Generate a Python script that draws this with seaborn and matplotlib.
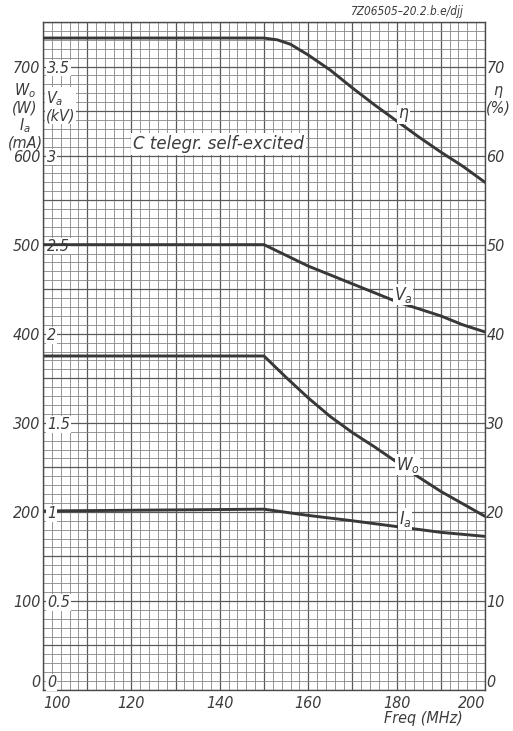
import matplotlib
matplotlib.use("Agg")
import matplotlib.pyplot as plt
import seaborn as sns
from matplotlib.ticker import MultipleLocator, FuncFormatter, FixedLocator

# ---- data ----
eta_freq = [100, 150, 153, 156, 160, 165, 170, 175, 180, 185, 190, 195, 200]
eta_pct = [73.2, 73.2, 73.0, 72.5, 71.3, 69.6, 67.6, 65.7, 63.9, 62.1, 60.4, 58.8, 57.0]

va_freq = [100, 150, 155, 160, 165, 170, 175, 180, 185, 190, 195, 200]
va_kv = [2.5, 2.5, 2.44, 2.38, 2.33, 2.28, 2.23, 2.18, 2.14, 2.10, 2.05, 2.01]

wo_freq = [100, 150, 155, 160, 165, 170, 175, 180, 185, 190, 195, 200]
wo_w = [375, 375, 351, 328, 307, 289, 273, 256, 239, 223, 209, 195]

ia_freq = [100, 150, 160, 170, 180, 190, 200]
ia_ma = [201, 203, 196, 190, 183.5, 177, 172.5]

x_ticks = [100, 120, 140, 160, 180, 200]
left_ticks = [0, 100, 200, 300, 400, 500, 600, 700]
va_ticks = [0, 0.5, 1, 1.5, 2, 2.5, 3, 3.5]
va_tick_labels = ["0", "0.5", "1", "1.5", "2", "2.5", "3", "3.5"]
eta_ticks = [0, 10, 20, 30, 40, 50, 60, 70]

sns.set_theme(style="white")
plt.rcParams["font.family"] = ["DejaVu Sans"]
plt.rcParams["font.style"] = "italic"
plt.rcParams["font.stretch"] = "condensed"
plt.rcParams["mathtext.fontset"] = "dejavusans"

TXT = "#3c3c3c"
LINE = "#383838"
FS = 11.5

fig = plt.figure(figsize=(5.13, 7.31), dpi=100)
ax = fig.add_axes([0.0838, 0.0561, 0.8616, 0.9138])
ax.set_xlim(100, 200)
ax.set_ylim(0, 750)

# grid
ax.xaxis.set_major_locator(FixedLocator(list(range(100, 201, 10))))
ax.xaxis.set_minor_locator(MultipleLocator(2))
ax.yaxis.set_major_locator(FixedLocator(list(range(0, 751, 50))))
ax.yaxis.set_minor_locator(MultipleLocator(10))
ax.grid(which="major", color="#5a5a5a", lw=0.9)
ax.grid(which="minor", color="#858585", lw=0.6)
ax.set_axisbelow(True)
ax.xaxis.set_major_formatter(FuncFormatter(lambda v, p: f"{v:.0f}" if round(v) in x_ticks else ""))
ax.yaxis.set_major_formatter(FuncFormatter(lambda v, p: f"{v:.0f}" if round(v) in left_ticks else ""))
ax.tick_params(which="both", length=0, labelsize=FS, labelcolor=TXT)
ax.tick_params(axis="y", pad=2)
ax.tick_params(axis="x", pad=4)
for s in ax.spines.values():
    s.set_color("#4a4a4a")
    s.set_linewidth(1.0)

# eta axis (right)
ax2 = ax.twinx()
ax2.set_ylim(0, 75)
ax2.yaxis.set_major_locator(FixedLocator(eta_ticks))
ax2.yaxis.set_major_formatter(FuncFormatter(lambda v, p: f"{v:.0f}"))
ax2.tick_params(axis="y", length=0, labelsize=FS, labelcolor=TXT, pad=1)
for s in ax2.spines.values():
    s.set_visible(False)

# Va axis (labels inside the plot, left)
ax3 = ax.twinx()
ax3.set_ylim(0, 3.75)
ax3.yaxis.set_ticks_position("left")
ax3.yaxis.set_major_locator(FixedLocator(va_ticks))
ax3.set_yticklabels(va_tick_labels)
ax3.tick_params(axis="y", length=0, labelsize=FS, labelcolor=TXT, pad=-3,
                labelleft=True, labelright=False)
for lab in ax3.get_yticklabels():
    lab.set_horizontalalignment("left")
    lab.set_bbox(dict(facecolor="white", edgecolor="none", pad=0.6))
for s in ax3.spines.values():
    s.set_visible(False)

# curves
kw = dict(color=LINE, lw=2.1, estimator=None, sort=False, legend=False)
sns.lineplot(x=wo_freq, y=wo_w, ax=ax, **kw)
sns.lineplot(x=ia_freq, y=ia_ma, ax=ax, **kw)
sns.lineplot(x=eta_freq, y=eta_pct, ax=ax2, **kw)
sns.lineplot(x=va_freq, y=va_kv, ax=ax3, **kw)
for a in (ax, ax2, ax3):
    a.set_xlabel("")
    a.set_ylabel("")
ax.set_xlim(100, 200)
ax.set_ylim(0, 750)

# zero labels sit a little above the bottom edge; end x labels pulled inward
fig.canvas.draw()
ax.yaxis.get_major_ticks()[0].label1.set_verticalalignment("bottom")
ax2.yaxis.get_major_ticks()[0].label2.set_verticalalignment("bottom")
ax3.yaxis.get_major_ticks()[0].label1.set_verticalalignment("bottom")
xt = ax.xaxis.get_major_ticks()
xt[0].label1.set_horizontalalignment("left")
xt[-1].label1.set_horizontalalignment("right")

# curve labels
bb = dict(facecolor="white", edgecolor="none", pad=0.5)
ax2.text(181.5, 64.6, r"$\eta$", fontsize=FS + 1, color=TXT, ha="center", va="center", bbox=bb)
ax3.text(181.5, 2.22, r"$V_a$", fontsize=FS + 1, color=TXT, ha="center", va="center", bbox=bb)
ax.text(182.5, 253, r"$W_o$", fontsize=FS + 1, color=TXT, ha="center", va="center", bbox=bb)
ax.text(182.0, 192, r"$I_a$", fontsize=FS + 1, color=TXT, ha="center", va="center", bbox=bb)

ax.text(120.4, 613, "C telegr. self-excited", fontsize=13.3, color=TXT,
        ha="left", va="center", bbox=dict(facecolor="white", edgecolor="none", pad=1.5))

# axis titles
fig.text(25 / 513, 1 - 116 / 731, "$W_o$\n(W)\n$I_a$\n(mA)", fontsize=FS, color=TXT,
         ha="center", va="center", linespacing=1.05)
fig.text(46 / 513, 1 - 106 / 731, "$V_a$\n(kV)", fontsize=FS, color=TXT,
         ha="left", va="center", linespacing=1.05,
         bbox=dict(facecolor="white", edgecolor="none", pad=0.5))
fig.text(498 / 513, 1 - 100 / 731, "$\\eta$\n(%)", fontsize=FS, color=TXT,
         ha="center", va="center", linespacing=1.05)
fig.text(423 / 513, 1 - 718 / 731, "Freq (MHz)", fontsize=FS, color=TXT,
         ha="center", va="center")
fig.text(463 / 513, 1 - 12 / 731, "7Z06505\u201320.2.b.e/djj", fontsize=8.5, color=TXT,
         ha="right", va="center")

fig.savefig("out.png", dpi=100, facecolor="white")
